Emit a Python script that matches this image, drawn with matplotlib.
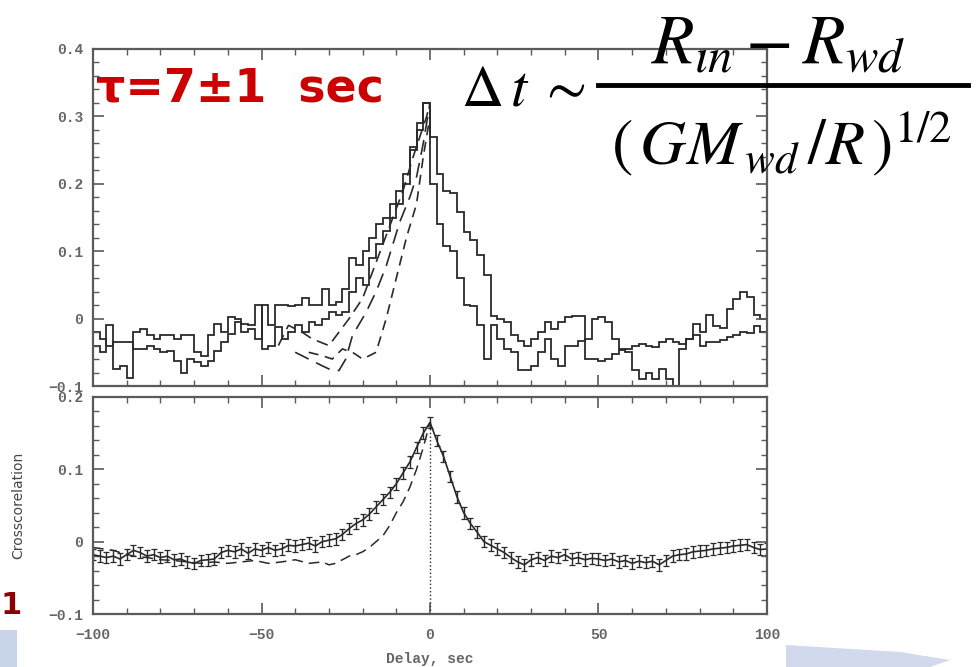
import numpy as np
import matplotlib.pyplot as plt
from matplotlib.lines import Line2D
from matplotlib.patches import Polygon
from matplotlib.ticker import MultipleLocator

# ---- data ----
# top panel: two binned cross-correlations (2 s bins, -100..100 s)
lag_edges = np.arange(-100, 101, 2)
cc_a = [-0.02, -0.03, -0.04, -0.035, -0.035, -0.035, -0.045, -0.045, -0.04, -0.045,
        -0.05, -0.048, -0.063, -0.08, -0.06, -0.065, -0.07, -0.063, -0.048, -0.035,
        -0.023, -0.005, -0.02, -0.015, -0.03,
        0.02, -0.01, 0.02, 0.02, 0.018, 0.02, 0.03, 0.02, 0.02, 0.044,
        0.02, 0.025, 0.044, 0.09, 0.08, 0.1, 0.12, 0.14, 0.15, 0.17,
        0.19, 0.215, 0.254, 0.28, 0.32,
        0.27, 0.215, 0.19, 0.187, 0.158, 0.128, 0.116, 0.094, 0.064, 0.004,
        0.0, -0.005, -0.025, -0.033, -0.04, -0.03, -0.02, -0.005, -0.015, -0.005,
        0.002, 0.004, 0.004, -0.06, -0.06,
        -0.063, -0.06, -0.052, -0.047, -0.045, -0.04, -0.037, -0.04, -0.042, -0.035,
        -0.03, -0.035, -0.037, -0.03, -0.025, -0.04, -0.035, -0.035, -0.032, -0.027,
        -0.025, -0.02, -0.022, -0.011, -0.02]
cc_b = [-0.04, -0.05, -0.01, -0.075, -0.07, -0.088, -0.02, -0.015, -0.025, -0.03,
        -0.025, -0.025, -0.03, -0.025, -0.025, -0.05, -0.055, -0.025, -0.008, -0.02,
        0.003, 0.0, -0.008, -0.01, 0.02,
        -0.045, -0.04, -0.012, -0.03, -0.02, -0.01, -0.02, -0.005, -0.01, 0.0,
        0.01, 0.005, 0.01, 0.04, 0.06, 0.05, 0.09, 0.11, 0.13, 0.15,
        0.17, 0.2, 0.25, 0.29, 0.32,
        0.2, 0.14, 0.108, 0.1, 0.06, 0.02, 0.018, -0.01, -0.06, -0.01,
        -0.03, -0.045, -0.05, -0.077, -0.077, -0.07, -0.05, -0.03, -0.06, -0.07,
        -0.04, -0.04, -0.033, -0.03, 0.0,
        0.002, -0.005, -0.03, -0.045, -0.05, -0.077, -0.09, -0.08, -0.09, -0.075,
        -0.09, -0.1, -0.045, -0.03, -0.008, -0.02, 0.005, -0.011, -0.014, 0.014,
        0.029, 0.039, 0.032, 0.005, 0.0]

# top panel dashed curves (rise side only)
d1_lag = [-45, -42, -38, -35, -30, -27, -24, -20, -17, -14, -11, -8, -5, -3, -1, 0]
d1_val = [-0.04, -0.01, -0.02, -0.03, -0.04, -0.02, 0.0, 0.03, 0.07, 0.11, 0.15, 0.19, 0.24, 0.27, 0.3, 0.32]
d2_lag = [-40, -36, -32, -29, -27, -25, -23, -19, -16, -13, -9, -6, -4, -2, 0]
d2_val = [-0.05, -0.06, -0.07, -0.077, -0.077, -0.06, -0.025, 0.009, 0.04, 0.078, 0.143, 0.18, 0.21, 0.26, 0.32]
d3_lag = [-36, -32, -29, -26, -23, -20, -18, -16, -13, -10, -7, -4, -2, 0]
d3_val = [-0.05, -0.055, -0.06, -0.045, -0.05, -0.06, -0.055, -0.05, 0.0, 0.06, 0.12, 0.17, 0.24, 0.3]

# bottom panel: mean cross-correlation with errors
lag_bot = np.arange(-100, 101, 2)
cc_bot = [-0.018, -0.02, -0.022, -0.02, -0.024, -0.018, -0.012, -0.015, -0.02, -0.018,
          -0.022, -0.02, -0.025, -0.024, -0.028, -0.03, -0.026, -0.025, -0.024, -0.015,
          -0.012, -0.014, -0.01, -0.016, -0.01, -0.012, -0.008, -0.012, -0.01, -0.005,
          -0.006, -0.004, -0.002, -0.006, 0.0, 0.002, 0.004, 0.01, 0.018, 0.025,
          0.03, 0.038, 0.048, 0.058, 0.068, 0.08, 0.095, 0.11, 0.13, 0.15,
          0.165,
          0.14, 0.118, 0.09, 0.062, 0.04, 0.025, 0.013, 0.0, -0.005, -0.01,
          -0.015, -0.022, -0.028, -0.032, -0.025, -0.022, -0.026, -0.02, -0.022, -0.018,
          -0.024, -0.022, -0.025, -0.023, -0.024, -0.026, -0.024, -0.028, -0.026, -0.03,
          -0.027, -0.029, -0.027, -0.032, -0.026, -0.02, -0.018, -0.017, -0.014, -0.013,
          -0.012, -0.01, -0.009, -0.008, -0.006, -0.005, -0.004, -0.008, -0.011, -0.01]
err_bot = 0.008
dash_lag = [-100, -97, -94, -92, -88, -84, -80, -76, -72, -68, -64, -60, -56, -52, -48,
            -44, -40, -36, -32, -30, -28, -26, -24, -22, -20, -18, -16, -14, -12, -10,
            -8, -6, -4, -2, 0]
dash_val = [-0.008, -0.01, -0.012, -0.015, -0.02, -0.022, -0.025, -0.026, -0.028, -0.03,
            -0.028, -0.03, -0.028, -0.026, -0.03, -0.028, -0.025, -0.03, -0.028, -0.032,
            -0.03, -0.025, -0.02, -0.018, -0.014, -0.008, 0.0, 0.008, 0.022, 0.04,
            0.055, 0.075, 0.1, 0.13, 0.165]

xticks = [-100, -50, 0, 50, 100]
xlabels = ['\u2212100', '\u221250', '0', '50', '100']
yticks_top = [-0.1, 0, 0.1, 0.2, 0.3, 0.4]
ylabels_top = ['\u22120.1', '0', '0.1', '0.2', '0.3', '0.4']
yticks_bot = [-0.1, 0, 0.1, 0.2]
ylabels_bot = ['\u22120.1', '0', '0.1', '0.2']

# ---- figure ----
W, H = 978, 667
fig = plt.figure(figsize=(W / 100, H / 100), dpi=100)

def fx(px):
    return px / W

def fy(py):
    return 1 - py / H

ax1 = fig.add_axes([fx(93), fy(386), 674 / W, 337 / H])
ax2 = fig.add_axes([fx(93), fy(614), 674 / W, 217 / H])

tick_font = dict(family='Liberation Mono', size=10.5, weight='bold')
line_c = '#2a2a2a'
frame_c = '#5a5a5a'
label_c = '#666666'

for ax in (ax1, ax2):
    ax.set_xlim(-100, 100)
    ax.xaxis.set_minor_locator(MultipleLocator(10))
    ax.yaxis.set_minor_locator(MultipleLocator(0.02))
    ax.tick_params(which='both', direction='in', top=True, right=True,
                   color=frame_c, labelcolor=label_c)
    ax.tick_params(which='major', length=8, width=1.2, pad=7)
    ax.tick_params(which='minor', length=4.5, width=1.0)
    for s in ax.spines.values():
        s.set_color(frame_c)
        s.set_linewidth(1.6)

# top panel
ax1.stairs(cc_a, lag_edges, baseline=None, color=line_c, lw=1.3)
ax1.stairs(cc_b, lag_edges, baseline=None, color=line_c, lw=1.3)
ax1.plot(d1_lag, d1_val, color=line_c, lw=1.2, ls=(0, (7, 4)))
ax1.plot(d2_lag, d2_val, color=line_c, lw=1.2, ls=(0, (9, 5)))
ax1.plot(d3_lag, d3_val, color=line_c, lw=1.2, ls=(0, (6, 4)))
ax1.set_ylim(-0.1, 0.4)
ax1.set_xticks(xticks)
ax1.tick_params(labelbottom=False)
ax1.set_yticks(yticks_top, ylabels_top, fontdict=tick_font)

# bottom panel
ax2.errorbar(lag_bot, cc_bot, yerr=err_bot, fmt='-', color=line_c, lw=1.2,
             elinewidth=1.0, capsize=2, capthick=0.9)
ax2.plot(dash_lag, dash_val, color=line_c, lw=1.1, ls=(0, (7, 4)))
ax2.vlines(0, -0.1, max(cc_bot), colors=line_c, linestyles=':', lw=1.0)
ax2.set_ylim(-0.1, 0.2)
ax2.set_xticks(xticks, xlabels, fontdict=tick_font)
ax2.set_yticks(yticks_bot, ylabels_bot, fontdict=tick_font)
ax2.tick_params(axis='x', which='major', pad=10)
ax2.set_xlabel('Delay, sec', family='Liberation Mono', size=10.5, weight='bold',
               color=label_c, labelpad=7)
ax2.set_ylabel('Crosscorelation', family='DejaVu Sans', size=10, color='#444444')
ax2.yaxis.set_label_coords((25 - 93) / 674, 0.5)

# red annotation
fig.text(fx(96), fy(102), '\u03c4=7\u00b11  sec', color='#cc0000', fontsize=33,
         fontweight='bold', family='DejaVu Sans', ha='left', va='baseline')

# formula
plt.rcParams['mathtext.fontset'] = 'stix'
fig.text(fx(461), fy(105), r'$\mathit{\Delta}\,t\;\sim$', fontsize=42,
         ha='left', va='baseline')
fig.text(fx(778), fy(62), r'$R_{\imath n} - R_{wd}$', fontsize=50,
         ha='center', va='baseline')
fig.text(fx(782), fy(164), r'$\left(\,GM_{\,wd}\,/R\,\right)^{1/2}$', fontsize=46,
         ha='center', va='baseline')
fig.add_artist(Line2D([fx(598), fx(968)], [fy(85), fy(85)], color='black', lw=3.5))

# slide background remnants
fig.text(fx(0), fy(614), '1', color='#8b0000', fontsize=22, fontweight='bold',
         ha='left', va='baseline')
fig.add_artist(Polygon([(fx(0), fy(630)), (fx(17), fy(630)), (fx(17), fy(667)), (fx(0), fy(667))],
                       closed=True, color='#c8d4e8', lw=0))
fig.add_artist(Polygon([(fx(786), fy(645)), (fx(900), fy(652)), (fx(950), fy(660)),
                        (fx(930), fy(667)), (fx(786), fy(667))],
                       closed=True, color='#d0daec', lw=0))

fig.savefig('out.png', dpi=100)
